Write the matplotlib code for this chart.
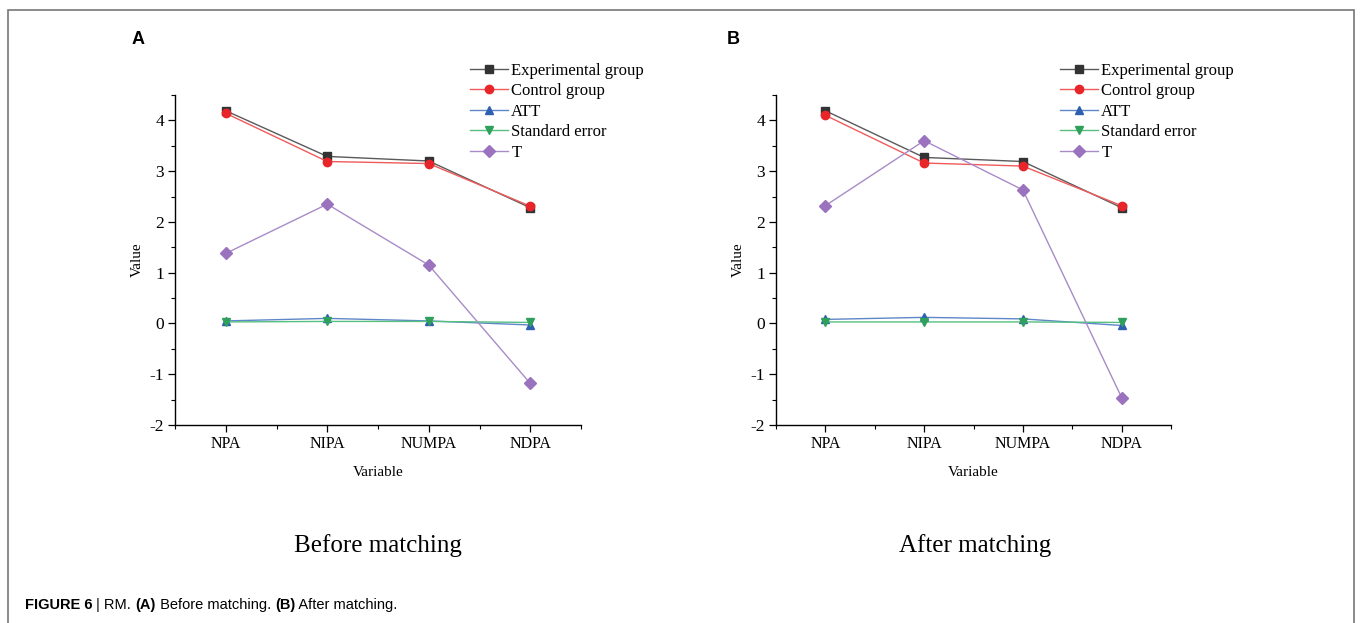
import matplotlib
matplotlib.use("Agg")
import matplotlib.pyplot as plt
from matplotlib.patches import Rectangle
from matplotlib.ticker import MultipleLocator

variables = ["NPA", "NIPA", "NUMPA", "NDPA"]
series_names = ["Experimental group", "Control group", "ATT", "Standard error", "T"]

# panel A - before matching
before_experimental = [4.19, 3.29, 3.20, 2.28]
before_control = [4.14, 3.19, 3.15, 2.31]
before_att = [0.05, 0.10, 0.05, -0.03]
before_se = [0.03, 0.04, 0.04, 0.02]
before_t = [1.38, 2.35, 1.15, -1.18]

# panel B - after matching
after_experimental = [4.19, 3.27, 3.19, 2.28]
after_control = [4.10, 3.16, 3.10, 2.32]
after_att = [0.08, 0.12, 0.09, -0.04]
after_se = [0.03, 0.03, 0.03, 0.02]
after_t = [2.32, 3.60, 2.63, -1.46]

styles = [
    dict(marker="s", color="#5a5a5a", markerfacecolor="#333333", markeredgecolor="#333333"),
    dict(marker="o", color="#f05a5a", markerfacecolor="#e8262a", markeredgecolor="#e8262a"),
    dict(marker="^", color="#5f86c8", markerfacecolor="#2f5fb0", markeredgecolor="#2f5fb0"),
    dict(marker="v", color="#55c07f", markerfacecolor="#2ea05c", markeredgecolor="#2ea05c"),
    dict(marker="D", color="#a88bc8", markerfacecolor="#9a72be", markeredgecolor="#9a72be"),
]

serif = "Liberation Serif"
sans = "Liberation Sans"

W, H = 1360, 623
fig = plt.figure(figsize=(W / 100, H / 100), dpi=100)

# thin frame round the figure
fig.patches.append(Rectangle((8 / W, -0.05), (1354 - 8) / W, 1.05 - 10 / H,
                             transform=fig.transFigure, fill=False,
                             edgecolor="#777777", linewidth=1.2))


def draw_panel(rect, data, letter, letter_x, subtitle, subtitle_x, legend_x):
    ax = fig.add_axes(rect)
    x = range(len(variables))
    for name, vals, st in zip(series_names, data, styles):
        ax.plot(x, vals, label=name, linewidth=1.0, markersize=6, **st)
    ax.set_xlim(-0.5, 3.5)
    ax.set_ylim(-2, 4.5)
    ax.set_xticks(list(x))
    ax.set_xticklabels(variables, fontfamily=serif, fontsize=11.5)
    ax.xaxis.set_minor_locator(MultipleLocator(0.5))
    ax.yaxis.set_minor_locator(MultipleLocator(0.5))
    ax.set_yticks([-2, -1, 0, 1, 2, 3, 4])
    ax.set_yticklabels(["-2", "-1", "0", "1", "2", "3", "4"], fontfamily=serif, fontsize=12.5)
    ax.tick_params(which="major", direction="out", length=5, width=0.9, pad=3)
    ax.tick_params(which="minor", direction="out", length=3, width=0.8)
    ax.spines["top"].set_visible(False)
    ax.spines["right"].set_visible(False)
    for s in ("left", "bottom"):
        ax.spines[s].set_linewidth(1.0)
    ax.set_xlabel("Variable", fontfamily=serif, fontsize=11, labelpad=10)
    ax.set_ylabel("Value", fontfamily=serif, fontsize=11, labelpad=4)
    ax.legend(loc="upper left", bbox_to_anchor=(legend_x / W, 1 - 56 / H),
              bbox_transform=fig.transFigure, frameon=False,
              prop={"family": serif, "size": 12}, handlelength=2.3,
              handletextpad=0.2, labelspacing=0.27, borderaxespad=0)
    fig.text(letter_x / W, 1 - 40 / H, letter, fontfamily=sans, fontweight="bold",
             fontsize=13, ha="center", va="center")
    fig.text(subtitle_x / W, 1 - 546 / H, subtitle, fontfamily=serif, fontsize=18,
             ha="center", va="center")
    return ax


draw_panel([175 / W, 1 - 425 / H, 406 / W, 330 / H],
           [before_experimental, before_control, before_att, before_se, before_t],
           "A", 138, "Before matching", 378, 463)
draw_panel([776 / W, 1 - 425 / H, 395 / W, 330 / H],
           [after_experimental, after_control, after_att, after_se, after_t],
           "B", 733, "After matching", 975, 1053)

# caption with bold parts
cap_y = 1 - 605 / H
parts = [("FIGURE 6", "bold"), (" | RM. ", "normal"), ("(A)", "bold"),
         (" Before matching. ", "normal"), ("(B)", "bold"), (" After matching.", "normal")]
renderer = fig.canvas.get_renderer()
cx = 25 / W
for txt, wt in parts:
    t = fig.text(cx, cap_y, txt, fontfamily=sans, fontweight=wt, fontsize=10.5,
                 ha="left", va="center")
    bb = t.get_window_extent(renderer=renderer)
    cx += bb.width / W

fig.savefig("out.png", dpi=100)
